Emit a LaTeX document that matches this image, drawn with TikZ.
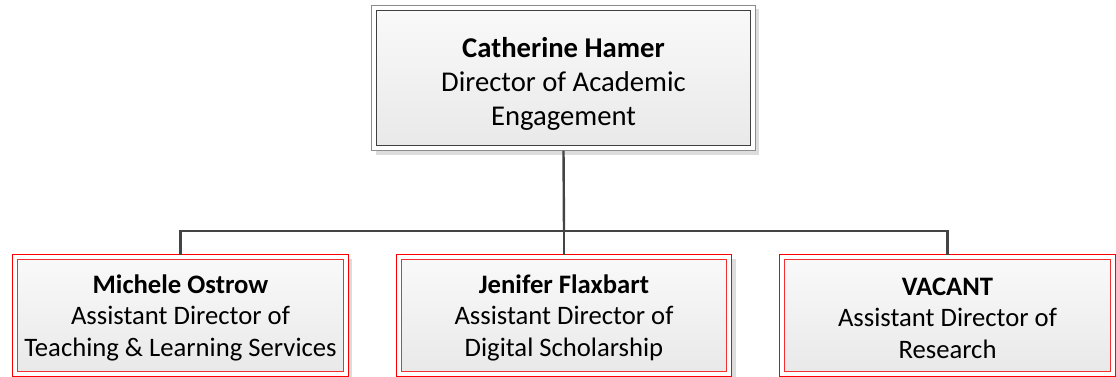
\documentclass[tikz,border=0pt]{standalone}
\usepackage{fontspec}
\setmainfont{Carlito}
\usetikzlibrary{backgrounds}
\definecolor{conncol}{HTML}{444444}
\definecolor{outergrey}{HTML}{8C8C8C}
\definecolor{innergrey}{HTML}{404040}
\definecolor{outerred}{HTML}{FF0000}
\definecolor{innerred}{HTML}{F03030}
\definecolor{fillA}{HTML}{F9F9F9}
\definecolor{fillB}{HTML}{E9E9E9}
\definecolor{shadowcol}{HTML}{DDDDDD}
\tikzset{
  orgbox/.style={rectangle, align=center, inner sep=0pt, top color=fillA, bottom color=fillB},
  bossbox/.style={orgbox, draw=innergrey, line width=0.9pt,
    font=\fontsize{21.5}{25.5}\selectfont,
    minimum width=280.6pt, minimum height=101.6pt},
  staffbox/.style={orgbox, draw=innerred, line width=0.8pt,
    font=\fontsize{20}{23.6}\selectfont,
    minimum width=244.2pt, minimum height=83.7pt},
  shadowbox/.style={fill=shadowcol},
  bossframe/.style={draw=outergrey, fill=white, line width=0.8pt},
  staffframe/.style={draw=outerred, fill=white, line width=0.9pt},
  conn/.style={draw=conncol, line width=1.8pt}
}
\begin{document}
\begin{tikzpicture}[x=0.75pt, y=-0.75pt]
\useasboundingbox (0,0) rectangle (1116,377);
\node[bossbox] (boss) at (563.5,78) {\rule{0pt}{24pt}\textbf{Catherine Hamer}\\Director of Academic\\Engagement};
\node[staffbox] (sa) at (180.5,315.5) {\rule{0pt}{17pt}\textbf{Michele Ostrow}\\Assistant Director of\\Teaching \& Learning Services};
\node[staffbox] (sb) at (564,315.5) {\rule{0pt}{17pt}\textbf{Jenifer Flaxbart}\\Assistant Director of\\Digital Scholarship};
\node[staffbox] (sc) at (947.5,315.5) {\rule{0pt}{17pt}\textbf{VACANT}\\Assistant Director of\\Research};
\begin{pgfonlayer}{background}
  \fill[shadowbox] ([shift={(-0.2pt,0.2pt)}]boss.north west) rectangle ([shift={(6.2pt,-6.2pt)}]boss.south east);
  \filldraw[bossframe] ([shift={(-3.2pt,3.2pt)}]boss.north west) rectangle ([shift={(3.2pt,-3.2pt)}]boss.south east);
  \foreach \s in {sa,sb,sc}{
    \fill[shadowbox] ([shift={(-0.4pt,0.4pt)}]\s.north west) rectangle ([shift={(6.4pt,-6.4pt)}]\s.south east);
    \filldraw[staffframe] ([shift={(-3.4pt,3.4pt)}]\s.north west) rectangle ([shift={(3.4pt,-3.4pt)}]\s.south east);
  }
\end{pgfonlayer}
\coordinate (bus) at (564,231);
\draw[conn] ([yshift=-3.2pt]boss.south) -- (bus);
\draw[conn] ([yshift=3.4pt]sa.north) |- (bus) -| ([yshift=3.4pt]sc.north);
\draw[conn] (bus) -- ([yshift=3.4pt]sb.north);
\end{tikzpicture}
\end{document}
